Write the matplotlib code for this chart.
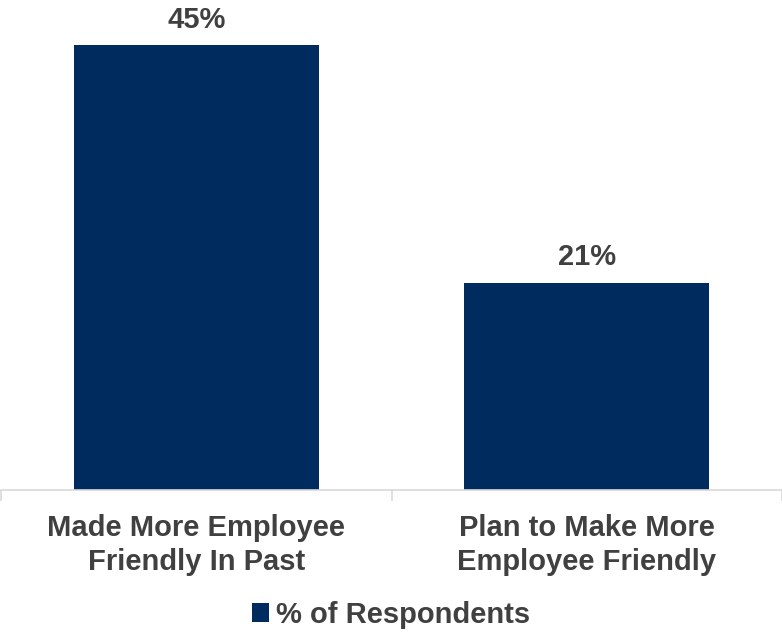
import matplotlib
matplotlib.use('Agg')
import matplotlib.pyplot as plt
from matplotlib.patches import Patch

# Data
categories = ['Made More Employee\nFriendly In Past', 'Plan to Make More\nEmployee Friendly']
values = [45, 21]
series_name = '% of Respondents'

navy = '#002B5F'
text_gray = '#404040'
axis_gray = '#D9D9D9'

plt.rcParams['font.family'] = ['Liberation Sans', 'DejaVu Sans']
plt.rcParams['font.weight'] = 'bold'

fig = plt.figure(figsize=(7.82, 6.34), dpi=100)
ax = fig.add_axes([1 / 782, 1 - 490 / 634, 781 / 782, 490 / 634])

x = list(range(len(categories)))
bars = ax.bar(x, values, width=0.627, color=navy)

# value labels
for xi, v in zip(x, values):
    ax.text(xi, v + 1.2, f'{v}%', ha='center', va='bottom',
            fontsize=21, fontweight='bold', color=text_gray)

ax.set_xlim(-0.5, len(categories) - 0.5)
ax.set_ylim(0, 49.6)

# tick marks between categories, labels centred under bars
ax.set_xticks([i - 0.5 for i in range(len(categories) + 1)])
ax.set_xticklabels([])
ax.set_xticks(x, minor=True)
ax.set_xticklabels(categories, minor=True, fontsize=21, fontweight='bold',
                   color=text_gray, linespacing=1.28)
ax.tick_params(axis='x', which='major', length=8, color=axis_gray, width=1.2)
ax.tick_params(axis='x', which='minor', length=0, pad=17)
ax.set_yticks([])

for s in ['top', 'right', 'left']:
    ax.spines[s].set_visible(False)
ax.spines['bottom'].set_color(axis_gray)
ax.spines['bottom'].set_linewidth(1.2)

handle = Patch(facecolor=navy, edgecolor='none')
fig.legend([handle], [series_name], loc='center', bbox_to_anchor=(0.5, 1 - 615 / 634),
           frameon=False, handlelength=0.6, handleheight=0.6, handletextpad=0.25,
           prop={'size': 21, 'weight': 'bold'}, labelcolor=text_gray)

fig.savefig('out.png', dpi=100)
